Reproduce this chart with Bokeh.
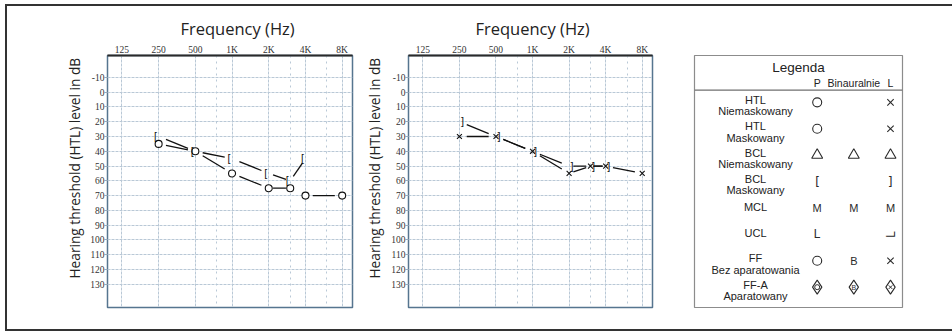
import math
from bokeh.plotting import figure
from bokeh.layouts import row
from bokeh.models import Range1d, FixedTicker, Grid, Span, Title
from bokeh.core.properties import value
from bokeh.embed import file_html
from bokeh.resources import INLINE

# ---------------- data ----------------
FREQ_TICKS = [125, 250, 500, 1000, 2000, 4000, 8000]
FREQ_LABELS = ["125", "250", "500", "1K", "2K", "4K", "8K"]
FREQ_MINOR = [750, 3000, 6000]
DB_TICKS = [-10, 0, 10, 20, 30, 40, 50, 60, 70, 80, 90, 100, 110, 120, 130]
DB_LABELS = ["-10", "0", "10", "20", "30", "40", "50", "60", "70", "80",
             "90", "100", "110", "120", "130"]
X_TITLE = "Frequency (Hz)"
Y_TITLE = "Hearing threshold (HTL) level in dB"

# ear P (right): HTL circles, BCL masked "["
p_air_freq = [250, 500, 1000, 2000, 3000, 4000, 8000]
p_air_db = [35, 40, 55, 65, 65, 70, 70]
p_air_link = [1, 1, 1, 1, 0, 1]
p_bone_freq = [250, 500, 1000, 2000, 3000, 4000]
p_bone_db = [30, 40, 45, 55, 60, 45]
p_bone_link = [1, 1, 1, 1, 1]

# ear L (left): HTL crosses, BCL masked "]"
l_air_freq = [250, 500, 1000, 2000, 3000, 4000, 8000]
l_air_db = [30, 30, 40, 55, 50, 50, 55]
l_air_link = [1, 1, 1, 1, 1, 1]
l_bone_freq = [250, 500, 1000, 2000, 3000, 4000]
l_bone_db = [20, 30, 40, 50, 50, 50]
l_bone_link = [1, 1, 1, 1, 1]

# legend table
LEG_TITLE = "Legenda"
LEG_COLS = ["P", "Binauralnie", "L"]
LEG_NAMES = ["HTL", "HTL", "BCL", "BCL", "MCL", "UCL", "FF", "FF-A"]
LEG_SUBS = ["Niemaskowany", "Maskowany", "Niemaskowany", "Maskowany", "", "",
            "Bez aparatowania", "Aparatowany"]
LEG_SYM_P = ["circle", "circle", "triangle", "[", "M", "L", "circle", "diamond_circle"]
LEG_SYM_B = ["", "", "triangle", "", "M", "", "B", "diamond_B"]
LEG_SYM_L = ["x", "x", "triangle", "]", "M", "L_rev", "x", "diamond_x"]

INK = "#111111"
GRID = "#b9c8d6"
FRAME = "#56758f"
H = 323
SANS = "Open Sans"


def gapped(freqs, dbs, links, frac=0.2):
    x0, y0, x1, y1 = [], [], [], []
    for i, ok in enumerate(links):
        if not ok:
            continue
        a, b = math.log2(freqs[i]), math.log2(freqs[i + 1])
        da, db_ = dbs[i], dbs[i + 1]
        x0.append(2 ** (a + frac * (b - a)))
        x1.append(2 ** (b - frac * (b - a)))
        y0.append(da + frac * (db_ - da))
        y1.append(db_ - frac * (db_ - da))
    return x0, y0, x1, y1


def audiogram(width, bl, br, air, bone, air_marker, bone_char, bone_dx,
              title_offset, ylab_standoff):
    p = figure(width=width, height=H, x_axis_type="log",
               x_range=Range1d(95.2, 9722), y_range=Range1d(145.7, -24.8),
               x_axis_location="above", y_axis_location="left",
               min_border_left=bl, min_border_right=br,
               min_border_top=49, min_border_bottom=22,
               toolbar_location=None, output_backend="svg")
    p.add_layout(Title(text=X_TITLE, align="left", offset=title_offset,
                       text_font=SANS, text_font_size="16.5px",
                       text_font_style="normal", text_color="#222222",
                       standoff=3), "above")
    p.background_fill_color = "white"
    p.border_fill_color = "white"
    p.outline_line_color = FRAME
    p.outline_line_width = 1.5

    xa = p.xaxis[0]
    xa.ticker = FixedTicker(ticks=FREQ_TICKS)
    xa.major_label_overrides = dict(zip(FREQ_TICKS, FREQ_LABELS))
    xa.major_label_text_font = "Liberation Serif"
    xa.major_label_text_font_size = "9.5px"
    xa.major_label_text_color = "#333333"
    xa.major_label_standoff = 1
    xa.major_tick_out = 0
    xa.major_tick_in = 0
    xa.minor_tick_out = 0
    xa.minor_tick_in = 0
    xa.major_tick_line_color = None
    xa.minor_tick_line_color = None
    xa.axis_line_color = "#2a2a2a"
    xa.axis_line_width = 2

    ya = p.yaxis[0]
    ya.ticker = FixedTicker(ticks=DB_TICKS)
    ya.major_label_overrides = dict(zip(DB_TICKS, DB_LABELS))
    ya.major_label_text_font = "Liberation Serif"
    ya.major_label_text_font_size = "9.5px"
    ya.major_label_text_color = "#333333"
    ya.major_label_standoff = 0
    ya.major_tick_out = 3
    ya.major_tick_in = 0
    ya.minor_tick_out = 0
    ya.minor_tick_in = 0
    ya.major_tick_line_color = "#9aaabb"
    ya.minor_tick_line_color = None
    ya.axis_line_color = None
    p.add_layout(Title(text=Y_TITLE, align="left", offset=29,
                       text_font=SANS, text_font_size="13.7px",
                       text_font_style="normal", text_color="#222222",
                       standoff=ylab_standoff), "left")

    p.xgrid.ticker = FixedTicker(ticks=FREQ_TICKS)
    p.ygrid.ticker = FixedTicker(ticks=DB_TICKS)
    p.xgrid.grid_line_color = GRID
    p.ygrid.grid_line_color = GRID
    p.xgrid.grid_line_dash = "3 1"
    p.ygrid.grid_line_dash = "3 1"
    p.add_layout(Grid(dimension=0, ticker=FixedTicker(ticks=FREQ_MINOR),
                      grid_line_color=GRID, grid_line_dash="2 4"))

    af, adb, alink = air
    bf, bdb, blink = bone
    for f, d, lk in (air, bone):
        x0, y0, x1, y1 = gapped(f, d, lk)
        p.segment(x0, y0, x1, y1, line_color=INK, line_width=1.3)
    p.scatter(af, adb, marker=air_marker, size=7, fill_color="white",
              line_color=INK, line_width=1.1)
    p.text(bf, bdb, text=[bone_char] * len(bf), x_offset=bone_dx,
           text_font=value("DejaVu Sans Mono"), text_font_size="10px",
           text_align="center", text_baseline="middle", text_color=INK)
    return p


fa = audiogram(350, 100, 5, (p_air_freq, p_air_db, p_air_link),
               (p_bone_freq, p_bone_db, p_bone_link), "circle", "[", -3, 73, 8)
fb = audiogram(313, 50, 18, (l_air_freq, l_air_db, l_air_link),
               (l_bone_freq, l_bone_db, l_bone_link), "x", "]", 3, 67, 10)

# ---------------- legend ----------------
LW, LH = 208, 262
lg = figure(width=282, height=H, x_range=Range1d(0, LW), y_range=Range1d(LH, 0),
            x_axis_location=None, y_axis_location=None,
            min_border_left=24, min_border_right=50, min_border_top=41,
            min_border_bottom=20, toolbar_location=None, output_backend="svg")
lg.grid.visible = False
lg.outline_line_color = "#8c8c8c"
lg.outline_line_width = 1.2
lg.add_layout(Span(location=36, dimension="width", line_color="#6f6f6f", line_width=1.2))

label_x = 61
col_x = [122.7, 159.3, 196]
row_y = [48.7 + 27.45 * i for i in range(len(LEG_NAMES))]
FONT = value("Liberation Sans")

lg.text([LW / 2], [12.5], text=[LEG_TITLE], text_font=FONT, text_font_size="13.5px",
        text_align="center", text_baseline="middle", text_color="#222")
lg.text(col_x, [28.5] * 3, text=LEG_COLS, text_font=FONT, text_font_size="10.5px",
        text_align="center", text_baseline="middle", text_color="#222")

n1y, n1t, n2y, n2t = [], [], [], []
for y, nm, sb in zip(row_y, LEG_NAMES, LEG_SUBS):
    if sb:
        n1y.append(y - 2.7)
        n2y.append(y + 9.3)
        n2t.append(sb)
    else:
        n1y.append(y - 1)
    n1t.append(nm)
lg.text([label_x] * len(n1t), n1y, text=n1t, text_font=FONT, text_font_size="11px",
        text_align="center", text_baseline="middle", text_color="#222")
lg.text([label_x] * len(n2t), n2y, text=n2t, text_font=FONT, text_font_size="11px",
        text_align="center", text_baseline="middle", text_color="#222")

buckets = {}
for cx, syms in zip(col_x, [LEG_SYM_P, LEG_SYM_B, LEG_SYM_L]):
    for y, s in zip(row_y, syms):
        if s:
            buckets.setdefault(s, []).append((cx, y))

SYM_INK = "#2a2a2a"
for s, pts in buckets.items():
    xs = [q[0] for q in pts]
    ys = [q[1] for q in pts]
    if s == "circle":
        lg.scatter(xs, ys, marker="circle", size=9, fill_color="white",
                   line_color=SYM_INK, line_width=1.1)
    elif s == "x":
        lg.scatter(xs, ys, marker="x", size=9, line_color=SYM_INK, line_width=1.1)
    elif s == "triangle":
        lg.scatter(xs, ys, marker="triangle", size=11, fill_color="white",
                   line_color=SYM_INK, line_width=1.1)
    elif s in ("[", "]", "M", "B"):
        fnt = value("DejaVu Sans Mono") if s in "[]" else FONT
        lg.text(xs, ys, text=[s] * len(xs), text_font=fnt,
                text_font_size="12px" if s in "[]" else "11px",
                text_align="center", text_baseline="middle", text_color=SYM_INK)
    elif s == "L":
        lg.text(xs, ys, text=["L"] * len(xs), text_font=FONT, text_font_size="12px",
                text_align="center", text_baseline="middle", text_color=SYM_INK)
    elif s == "L_rev":
        lg.text(xs, ys, text=["L"] * len(xs), angle=math.pi / 2, text_font=FONT,
                text_font_size="12px", text_align="center", text_baseline="middle",
                text_color=SYM_INK)
    elif s.startswith("diamond"):
        lg.scatter(xs, ys, marker="diamond", size=14, fill_color="white",
                   line_color=SYM_INK, line_width=1.1)
        inner = s.split("_")[1]
        if inner == "circle":
            lg.scatter(xs, ys, marker="circle", size=5, fill_color="white",
                       line_color=SYM_INK, line_width=1)
        elif inner == "x":
            lg.scatter(xs, ys, marker="x", size=5, line_color=SYM_INK, line_width=1)
        else:
            lg.text(xs, ys, text=[inner] * len(xs), text_font=FONT, text_font_size="7px",
                    text_align="center", text_baseline="middle", text_color=SYM_INK)

layout = row(fa, fb, lg, margin=(4, 0, 0, 5),
             styles={"border-top": "2px solid #333", "border-left": "2px solid #333",
                     "border-bottom": "2px solid #333", "border-right": "0px none"})

open("out.html", "w").write(file_html(layout, INLINE))
